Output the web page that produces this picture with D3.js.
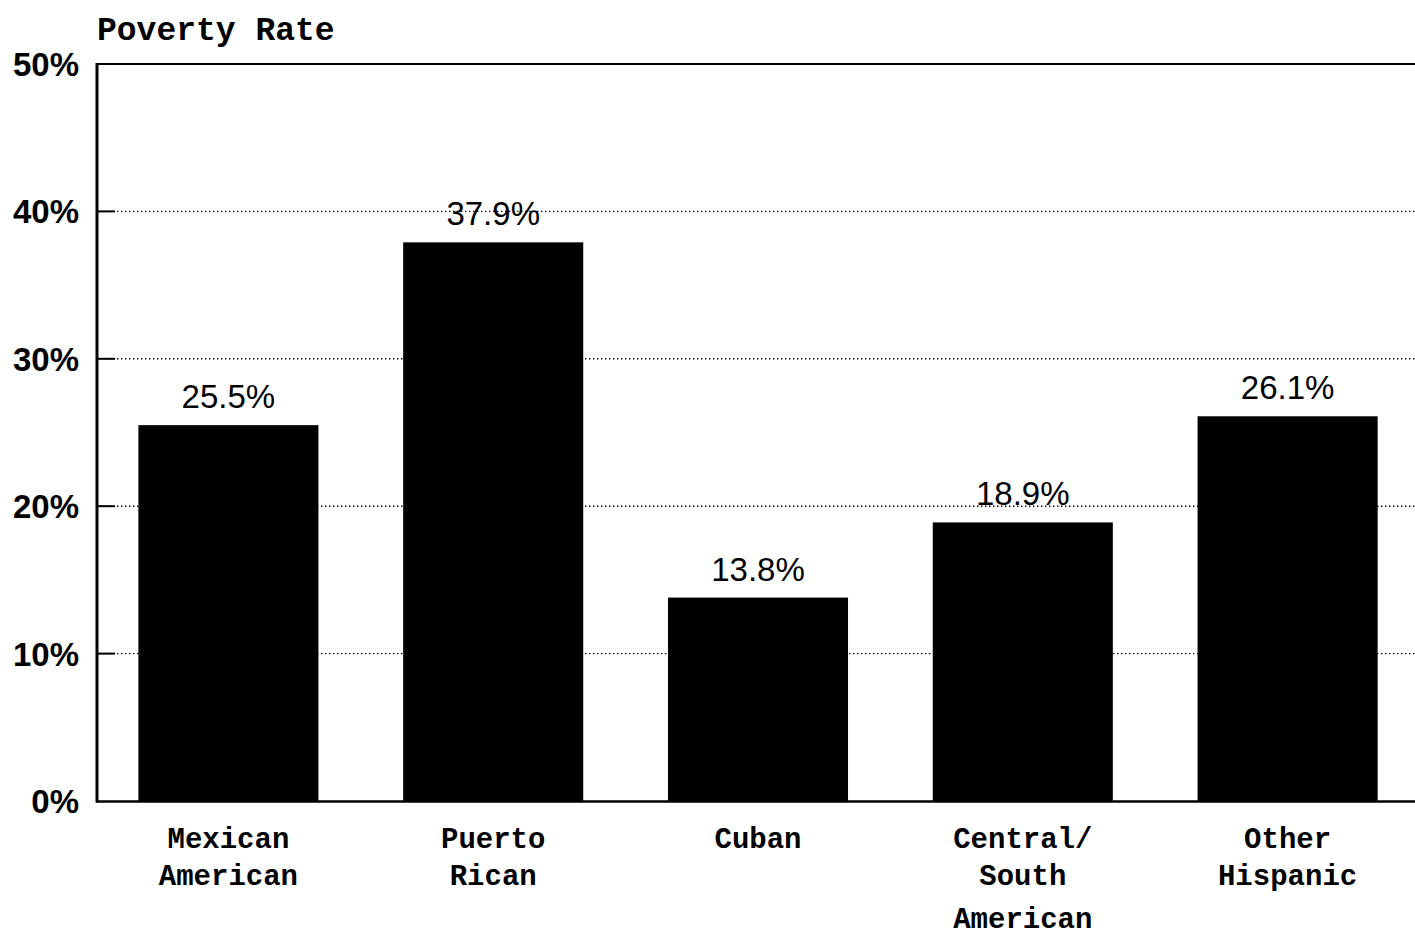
<!DOCTYPE html>
<html>
<head>
<meta charset="utf-8">
<script src="https://cdn.jsdelivr.net/npm/d3@7"></script>
<style>
  html, body { margin: 0; padding: 0; background: #fff; }
  svg { display: block; }
</style>
</head>
<body>
<svg id="chart" width="1415" height="936"></svg>
<script>
const categories = [["Mexican", "American"], ["Puerto", "Rican"], ["Cuban"], ["Central/", "South", "American"], ["Other", "Hispanic"]];
const values = [25.5, 37.9, 13.8, 18.9, 26.1];
const valueLabels = ["25.5%", "37.9%", "13.8%", "18.9%", "26.1%"];
const yTicks = [0, 10, 20, 30, 40, 50];
const yTickLabels = ["0%", "10%", "20%", "30%", "40%", "50%"];
const gridValues = [10, 20, 30, 40];
const title = "Poverty Rate";

const svg = d3.select("#chart");
const keys = categories.map((c, i) => i);

const x = d3.scaleBand().domain(keys).range([96, 1420]).paddingInner(0.32).paddingOuter(0.16);
const y = d3.scaleLinear().domain([0, 50]).range([801, 64]);

const monoFont = "'Liberation Mono', 'Courier New', monospace";
const sansFont = "'Liberation Sans', Arial, sans-serif";

// gridlines
svg.append("g").selectAll("line").data(gridValues).join("line")
  .attr("x1", 97).attr("x2", 1415)
  .attr("y1", d => y(d)).attr("y2", d => y(d))
  .attr("stroke", "#000").attr("stroke-width", 1.4)
  .attr("stroke-dasharray", "1.4,2.6");

// bars
svg.append("g").selectAll("rect").data(values).join("rect")
  .attr("x", (d, i) => x(i))
  .attr("width", x.bandwidth())
  .attr("y", d => y(d))
  .attr("height", d => y(0) - y(d))
  .attr("fill", "#000");

// value labels
svg.append("g").selectAll("text").data(values).join("text")
  .attr("x", (d, i) => x(i) + x.bandwidth() / 2)
  .attr("y", d => y(d) - 17)
  .attr("text-anchor", "middle")
  .attr("font-family", sansFont)
  .attr("font-size", 33)
  .attr("fill", "#000")
  .text((d, i) => valueLabels[i]);

// axes frame
svg.append("line").attr("x1", 97).attr("x2", 97).attr("y1", y(50) - 1).attr("y2", y(0) + 1.5)
  .attr("stroke", "#000").attr("stroke-width", 3);
svg.append("line").attr("x1", 96).attr("x2", 1415).attr("y1", y(50)).attr("y2", y(50))
  .attr("stroke", "#000").attr("stroke-width", 2.2);
svg.append("line").attr("x1", 96).attr("x2", 1415).attr("y1", y(0) + 0.5).attr("y2", y(0) + 0.5)
  .attr("stroke", "#000").attr("stroke-width", 2.6);

// y ticks (inward)
svg.append("g").selectAll("line").data(gridValues).join("line")
  .attr("x1", 97).attr("x2", 115)
  .attr("y1", d => y(d)).attr("y2", d => y(d))
  .attr("stroke", "#000").attr("stroke-width", 2);

// y tick labels
svg.append("g").selectAll("text").data(yTicks).join("text")
  .attr("x", 79)
  .attr("y", d => y(d) + 12)
  .attr("text-anchor", "end")
  .attr("font-family", sansFont)
  .attr("font-weight", "bold")
  .attr("font-size", 33)
  .attr("fill", "#000")
  .text((d, i) => yTickLabels[i]);

// category labels
const lineOffsets = [0, 37, 80];
const catG = svg.append("g").selectAll("text").data(categories).join("text")
  .attr("text-anchor", "middle")
  .attr("font-family", monoFont)
  .attr("font-weight", "bold")
  .attr("font-size", 29)
  .attr("fill", "#000");
catG.selectAll("tspan").data((d, i) => d.map(t => ({t, i}))).join("tspan")
  .attr("x", d => x(d.i) + x.bandwidth() / 2)
  .attr("y", (d, j) => 848 + lineOffsets[j])
  .text(d => d.t);

// title
svg.append("text").attr("x", 97).attr("y", 40)
  .attr("font-family", monoFont)
  .attr("font-weight", "bold")
  .attr("font-size", 33)
  .attr("fill", "#000")
  .text(title);
</script>
</body>
</html>
